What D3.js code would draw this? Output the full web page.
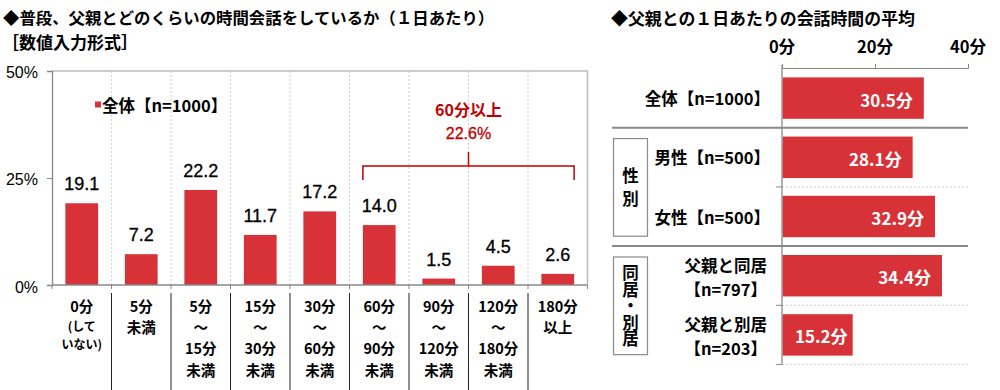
<!DOCTYPE html>
<html><head><meta charset="utf-8">
<script src="https://cdn.jsdelivr.net/npm/d3@7"></script>
<style>
html,body{margin:0;padding:0;background:#fff;}
svg{display:block;font-family:"Noto Sans CJK JP","Noto Sans",sans-serif;}
</style></head>
<body>
<svg id="chart" width="1000" height="390"></svg>
<script>
// ---- Left chart data ----
const categories = ["0分\n(して\nいない)", "5分\n未満", "5分\n～\n15分\n未満", "15分\n～\n30分\n未満", "30分\n～\n60分\n未満", "60分\n～\n90分\n未満", "90分\n～\n120分\n未満", "120分\n～\n180分\n未満", "180分\n以上"];
const values = [19.1, 7.2, 22.2, 11.7, 17.2, 14.0, 1.5, 4.5, 2.6];
const yTicks = [0, 25, 50];
const yTickLabels = ["0%", "25%", "50%"];
const legendLabel = "全体【n=1000】";
const bracketRange = [5, 8];
const bracketText = ["60分以上", "22.6%"];
const leftTitle = ["◆普段、父親とどのくらいの時間会話をしているか（１日あたり）", "［数値入力形式］"];

// ---- Right chart data ----
const rightTitle = "◆父親との１日あたりの会話時間の平均";
const rowLabels = ["全体【n=1000】", "男性【n=500】", "女性【n=500】", "父親と同居\n【n=797】", "父親と別居\n【n=203】"];
const avgValues = [30.5, 28.1, 32.9, 34.4, 15.2];
const xTicks = [0, 20, 40];
const groupNames = ["性別", "同居・別居"];
const groupRows = [[1, 2], [3, 4]];

const RED = "#d73237";
const DARKRED = "#c00000";
const NUMFONT = "Liberation Sans, Arial, sans-serif";
const svg = d3.select("#chart");

// ================= LEFT CHART =================
svg.append("text").attr("x", 3).attr("y", 24).attr("font-size", 16.4).attr("font-weight", "bold").text(leftTitle[0]);
svg.append("text").attr("x", 2).attr("y", 49).attr("font-size", 17).attr("font-weight", "bold").text(leftTitle[1]);

const x = d3.scaleBand().domain(d3.range(categories.length)).range([52, 587.5]).paddingInner(0.45).paddingOuter(0.225);
const y = d3.scaleLinear().domain([0, 50]).range([285, 71]);
const step = x.step();
const bound = i => x(i) - x.paddingInner() * step / 2;

// vertical dotted grid
const gL = svg.append("g");
d3.range(1, categories.length).forEach(i => {
  gL.append("line").attr("x1", bound(i)).attr("x2", bound(i)).attr("y1", y(50)).attr("y2", y(0))
    .attr("stroke", "#cfcfcf").attr("stroke-width", 1).attr("stroke-dasharray", "2,2");
});
// frame top/right
gL.append("path").attr("d", `M52,${y(50)}H587.5V${y(0)}`).attr("fill", "none").attr("stroke", "#bdbdbd").attr("stroke-width", 1.5);

// y axis
const yAxis = d3.axisLeft(y).tickValues(yTicks).tickSize(5).tickFormat("");
const ya = svg.append("g").attr("transform", "translate(52,0)").call(yAxis);
ya.select(".domain").attr("stroke", "#888").attr("stroke-width", 1.3);
ya.selectAll(".tick line").attr("stroke", "#888");
yTicks.forEach((t, i) => {
  svg.append("text").attr("x", 38).attr("y", y(t) + (t === 0 ? 2 : 1)).attr("text-anchor", "end")
    .attr("dominant-baseline", "central").attr("font-size", 16).attr("font-family", NUMFONT)
    .text(yTickLabels[i]);
});

// bars
svg.append("g").selectAll("rect").data(values).join("rect")
  .attr("x", (d, i) => x(i)).attr("width", x.bandwidth())
  .attr("y", d => y(d)).attr("height", d => y(0) - y(d)).attr("fill", RED);

// value labels
svg.append("g").selectAll("text").data(values).join("text")
  .attr("x", (d, i) => x(i) + x.bandwidth() / 2).attr("y", d => y(d) - 13)
  .attr("text-anchor", "middle").attr("font-size", 18).attr("font-family", NUMFONT)
  .attr("stroke", "#000").attr("stroke-width", 0.3)
  .text(d => d.toFixed(1));

// baseline & ticks
svg.append("line").attr("x1", 52).attr("x2", 587.5).attr("y1", y(0)).attr("y2", y(0)).attr("stroke", "#888").attr("stroke-width", 1.3);
d3.range(0, categories.length + 1).forEach(i => {
  const xx = i === 0 ? 52 : (i === categories.length ? 587.5 : bound(i));
  svg.append("line").attr("x1", xx).attr("x2", xx).attr("y1", y(0)).attr("y2", y(0) + 4).attr("stroke", "#888");
});
// category separators
d3.range(1, categories.length).forEach(i => {
  svg.append("line").attr("x1", bound(i)).attr("x2", bound(i)).attr("y1", 293).attr("y2", 390).attr("stroke", "#222").attr("stroke-width", 1);
});
// category labels
categories.forEach((c, i) => {
  const lines = c.split("\n");
  const cx = x(i) + x.bandwidth() / 2;
  const t = svg.append("text").attr("text-anchor", "middle").attr("font-weight", "bold");
  if (lines[1] && lines[1].startsWith("(")) {
    t.append("tspan").attr("x", cx).attr("y", 312).attr("font-size", 14.5).text(lines[0]);
    t.append("tspan").attr("x", cx).attr("y", 331).attr("font-size", 12).text(lines[1]);
    t.append("tspan").attr("x", cx).attr("y", 348.5).attr("font-size", 12).text(lines[2]);
  } else {
    lines.forEach((l, k) => {
      t.append("tspan").attr("x", cx).attr("y", 312 + k * 21.2).attr("font-size", 14.5).text(l);
    });
  }
});

// legend
svg.append("rect").attr("x", 95).attr("y", 101.5).attr("width", 6).attr("height", 6).attr("fill", RED);
svg.append("text").attr("x", 102).attr("y", 104.5).attr("dominant-baseline", "central").attr("font-size", 16.5).attr("font-weight", "bold").text(legendLabel);

// bracket
const bx1 = x(bracketRange[0]), bx2 = x(bracketRange[1]) + x.bandwidth();
const bmid = (bx1 + bx2) / 2;
svg.append("path").attr("d", `M${bx1},180V166H${bx2}V180M${bmid},166V152`).attr("fill", "none").attr("stroke", DARKRED).attr("stroke-width", 1.5);
svg.append("text").attr("x", bmid).attr("y", 116).attr("text-anchor", "middle").attr("font-size", 16).attr("font-weight", "bold").attr("fill", DARKRED).text(bracketText[0]);
svg.append("text").attr("x", bmid).attr("y", 139).attr("text-anchor", "middle").attr("font-size", 16).attr("fill", DARKRED)
  .attr("stroke", DARKRED).attr("stroke-width", 0.3).attr("font-family", NUMFONT).text(bracketText[1]);

// ================= RIGHT CHART =================
svg.append("text").attr("x", 611).attr("y", 25).attr("font-size", 16.9).attr("font-weight", "bold").text(rightTitle);

const xr = d3.scaleLinear().domain([0, 40]).range([782, 968]);
const yr = d3.scaleBand().domain(d3.range(avgValues.length)).range([68.5, 364.5]).paddingInner(0.3).paddingOuter(0.15);
const rstep = yr.step();
const rbound = i => yr(i) - yr.paddingInner() * rstep / 2;

// top axis
const xa = svg.append("g").attr("transform", "translate(0,68)").call(d3.axisTop(xr).tickValues(xTicks).tickSize(4).tickFormat(""));
xa.select(".domain").attr("stroke", "#888");
xa.selectAll(".tick line").attr("stroke", "#888");
xTicks.forEach(t => {
  svg.append("text").attr("x", xr(t)).attr("y", 53).attr("text-anchor", "middle").attr("font-size", 16.5).attr("font-weight", "bold").text(t + "分");
});

// row separators
[2, 4].forEach(i => {
  svg.append("line").attr("x1", xr(0)).attr("x2", xr(40)).attr("y1", rbound(i)).attr("y2", rbound(i)).attr("stroke", "#d0d0d0").attr("stroke-dasharray", "2,2");
  svg.append("line").attr("x1", xr(0) - 6).attr("x2", xr(0)).attr("y1", rbound(i)).attr("y2", rbound(i)).attr("stroke", "#888");
});
{
  const yb = rbound(avgValues.length - 1) + rstep;
  svg.append("line").attr("x1", xr(0)).attr("x2", xr(40)).attr("y1", yb).attr("y2", yb).attr("stroke", "#d0d0d0").attr("stroke-dasharray", "2,2");
  svg.append("line").attr("x1", xr(0) - 6).attr("x2", xr(0)).attr("y1", yb).attr("y2", yb).attr("stroke", "#888");
}
[1, 3].forEach(i => {
  svg.append("line").attr("x1", 612).attr("x2", xr(40)).attr("y1", rbound(i)).attr("y2", rbound(i)).attr("stroke", "#8a8a8a").attr("stroke-width", 2);
});
// left axis
svg.append("line").attr("x1", xr(0)).attr("x2", xr(0)).attr("y1", 65).attr("y2", 364.5).attr("stroke", "#888").attr("stroke-width", 1.3);

// bars
svg.append("g").selectAll("rect").data(avgValues).join("rect")
  .attr("x", xr(0) + 0.7).attr("y", (d, i) => yr(i)).attr("height", yr.bandwidth())
  .attr("width", d => xr(d) - xr(0) - 0.7).attr("fill", RED);

// value labels
const vl = svg.append("g").selectAll("text").data(avgValues).join("text")
  .attr("y", (d, i) => yr(i) + yr.bandwidth() / 2 + 1).attr("dominant-baseline", "central")
  .attr("text-anchor", "end").attr("font-size", 17).attr("font-weight", "bold").attr("fill", "#fff")
  .text(d => d.toFixed(1) + "分");
vl.each(function (d) {
  const w = this.getComputedTextLength();
  d3.select(this).attr("x", Math.max(xr(d) - 11, xr(0) + w + 13));
});

// row labels
rowLabels.forEach((l, i) => {
  const lines = l.split("\n");
  const cy = yr(i) + yr.bandwidth() / 2;
  const t = svg.append("text").attr("text-anchor", "end").attr("font-size", 16.5).attr("font-weight", "bold");
  if (lines.length === 1) {
    t.attr("x", 770).attr("y", cy).attr("dominant-baseline", "central").text(lines[0]);
  } else {
    t.append("tspan").attr("x", 767).attr("y", cy - 4).text(lines[0]);
    t.append("tspan").attr("x", 767).attr("y", cy + 20).text(lines[1]);
  }
});

// group boxes (vertical text)
groupNames.forEach((g, k) => {
  const r = groupRows[k];
  const top = yr(r[0]) + 2, bot = yr(r[r.length - 1]) + yr.bandwidth() - 1;
  svg.append("rect").attr("x", 613.5).attr("y", top).attr("width", 34).attr("height", bot - top)
    .attr("fill", "none").attr("stroke", "#8a8a8a").attr("stroke-width", 1.2);
  const chars = Array.from(g);
  const ls = chars.length > 2 ? 0 : 7;
  svg.append("text").attr("x", 630.5).attr("y", (top + bot) / 2 + ls / 2)
    .style("writing-mode", "vertical-rl").attr("text-anchor", "middle")
    .attr("letter-spacing", ls)
    .attr("font-size", 16.5).attr("font-weight", "bold").text(g);
});
</script>
</body></html>
